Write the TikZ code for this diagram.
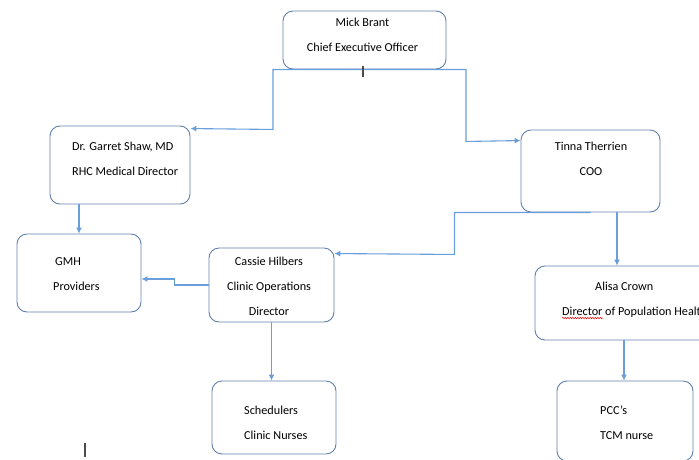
\documentclass[tikz,border=0pt]{standalone}
\usepackage{fontspec}
\setmainfont{Carlito}
\usetikzlibrary{positioning,calc,arrows.meta,decorations.pathmorphing}
\definecolor{boxline}{RGB}{96,128,172}
\definecolor{linkline}{RGB}{104,158,218}
\begin{document}
\begin{tikzpicture}[x=1pt,y=-1pt]
    \tikzstyle{box}=[draw=boxline,line width=0.9,rectangle,rounded corners=10,inner sep=0]
    \tikzstyle{txt}=[inner sep=0,font=\fontsize{12.2}{24.8}\selectfont]
    \tikzstyle{link}=[draw=linkline,line width=1.1,-{Latex[length=6,width=6]}]
    \tikzstyle{cursor}=[draw=black!70,line width=1.2]
    \useasboundingbox (0,0) rectangle (699,459);
    \clip (0,0) rectangle (699,459);
    {
        \node[box,minimum width=163,minimum height=58] (ceo) at (364.5,40) {};
        \node[box,minimum width=140,minimum height=78] (shaw) at (120,165) {};
        \node[box,minimum width=139,minimum height=82] (tinna) at (590.5,171) {};
        \node[box,minimum width=124,minimum height=78] (gmh) at (79,273) {};
        \node[box,minimum width=125,minimum height=74] (cassie) at (271.5,285) {};
        \node[box,minimum width=178,minimum height=74] (alisa) at (624,303) {};
        \node[box,minimum width=124,minimum height=73] (sched) at (274,417.5) {};
        \node[box,minimum width=136,minimum height=80] (pcc) at (625,421) {};
    }
    {
        \node[txt,anchor=base,align=center] (ceo-t) at (362.5,51.7) {Mick Brant\\Chief Executive Officer};
        \node[txt,anchor=base west,align=left] (shaw-t) at (72,175.3) {Dr. Garret Shaw, MD\\RHC Medical Director};
        \node[txt,anchor=base,align=center] (tinna-t) at (591,175) {Tinna Therrien\\COO};
        \node[txt,anchor=base west,align=left] (gmh-t) at (53,290) {\hspace*{2pt}GMH\\Providers};
        \node[txt,anchor=base,align=center] (cassie-t) at (269,315) {Cassie Hilbers\\Clinic Operations\\Director};
        \node[txt,anchor=base west,align=left] (alisa-t) at (562,315) {\hspace*{33pt}Alisa Crown\\Director of Population Health};
        \node[txt,anchor=base west,align=left] (sched-t) at (244,439) {Schedulers\\Clinic Nurses};
        \node[txt,anchor=base west,align=left] (pcc-t) at (600,439) {PCC’s\\TCM nurse};
    }
    \draw[link] (ceo.south) -| ++(-91.5,60) -- ($(shaw.north east)+(0,3)$);
    \draw[link] (ceo.south) -| ++(101.5,72) -- ($(tinna.north west)+(0,11)$);
    \draw[link] (shaw.south -| gmh.north) -- (gmh.north);
    \draw[link] (tinna.south) -| ++(-136,42) -- ($(cassie.north east)+(0,6)$);
    \draw[link] ($(tinna.south)+(26.5,0)$) -- ($(alisa.north)+(-7,0)$);
    \draw[link] (cassie.west) -- ++(-34,0) |- ($(gmh.east)+(0,6)$);
    \draw[link] (cassie.south) -- (cassie.south |- sched.north);
    \draw[link] (alisa.south) -- (alisa.south |- pcc.north);
    \draw[red,line width=0.5,decorate,decoration={snake,amplitude=0.7,segment length=2.5}] (562,318) -- (603,318);
    \draw[cursor] (363,66) -- (363,77);
    \draw[cursor] (85,443) -- (85,457);
\end{tikzpicture}
\end{document}
